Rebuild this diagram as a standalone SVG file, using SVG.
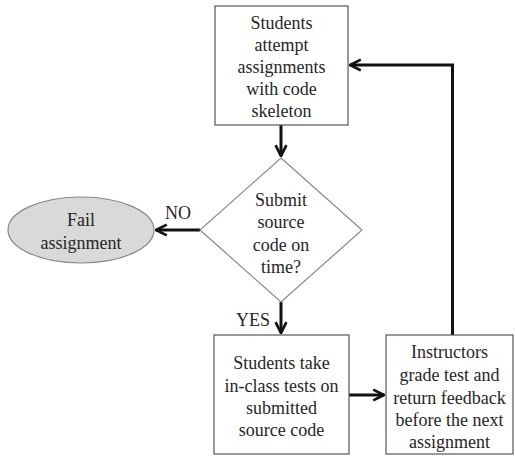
<svg xmlns="http://www.w3.org/2000/svg" width="515" height="456" viewBox="0 0 515 456">
<style>
.box{fill:#fff;stroke:#555;stroke-width:1.2}
.dia{fill:#fff;stroke:#888;stroke-width:1.2}
.ell{fill:#d9d9d9;stroke:#888;stroke-width:1.2}
.t{font-family:'Liberation Serif',Tinos,serif;font-size:18px;fill:#262626;text-anchor:middle}
.c{fill:none;stroke:#111;stroke-width:3}
</style>
<defs>
<marker id="ah" viewBox="0 0 10 10" refX="9" refY="5" markerWidth="4.5" markerHeight="4.5" markerUnits="strokeWidth" orient="auto">
<path d="M1,1 L9,5 L1,9" fill="none" stroke="#111" stroke-width="2"/>
</marker>
</defs>
<g id="connectors">
<line class="c" x1="281" y1="125" x2="281" y2="156" marker-end="url(#ah)"/>
<line class="c" x1="200" y1="230" x2="156" y2="230" marker-end="url(#ah)"/>
<line class="c" x1="281" y1="302" x2="281" y2="333" marker-end="url(#ah)"/>
<line class="c" x1="349" y1="395" x2="384" y2="395" marker-end="url(#ah)"/>
<polyline class="c" points="452.5,335 452.5,65 350,65" marker-end="url(#ah)"/>
<text class="t" x="178" y="219">NO</text>
<text class="t" x="253" y="326">YES</text>
</g>
<g id="attempt">
<rect class="box" x="215" y="6" width="133" height="119"/>
<text class="t" x="281.5" y="29">Students</text>
<text class="t" x="281.5" y="51">attempt</text>
<text class="t" x="281.5" y="73">assignments</text>
<text class="t" x="281.5" y="95">with code</text>
<text class="t" x="281.5" y="117">skeleton</text>
</g>
<g id="decision">
<polygon class="dia" points="281,158 362,230 281,302 200,230"/>
<text class="t" x="281" y="206">Submit</text>
<text class="t" x="281" y="228">source</text>
<text class="t" x="281" y="251">code on</text>
<text class="t" x="281" y="273">time?</text>
</g>
<g id="fail">
<ellipse class="ell" cx="81" cy="230" rx="73" ry="33"/>
<text class="t" x="81" y="226">Fail</text>
<text class="t" x="81" y="249">assignment</text>
</g>
<g id="tests">
<rect class="box" x="214" y="335" width="135" height="119"/>
<text class="t" x="281.5" y="369">Students take</text>
<text class="t" x="281.5" y="392">in-class tests on</text>
<text class="t" x="281.5" y="414">submitted</text>
<text class="t" x="281.5" y="436">source code</text>
</g>
<g id="grade">
<rect class="box" x="386" y="335" width="127" height="119"/>
<text class="t" x="449.5" y="358">Instructors</text>
<text class="t" x="449.5" y="381">grade test and</text>
<text class="t" x="449.5" y="404">return feedback</text>
<text class="t" x="449.5" y="426">before the next</text>
<text class="t" x="449.5" y="448">assignment</text>
</g>
</svg>
